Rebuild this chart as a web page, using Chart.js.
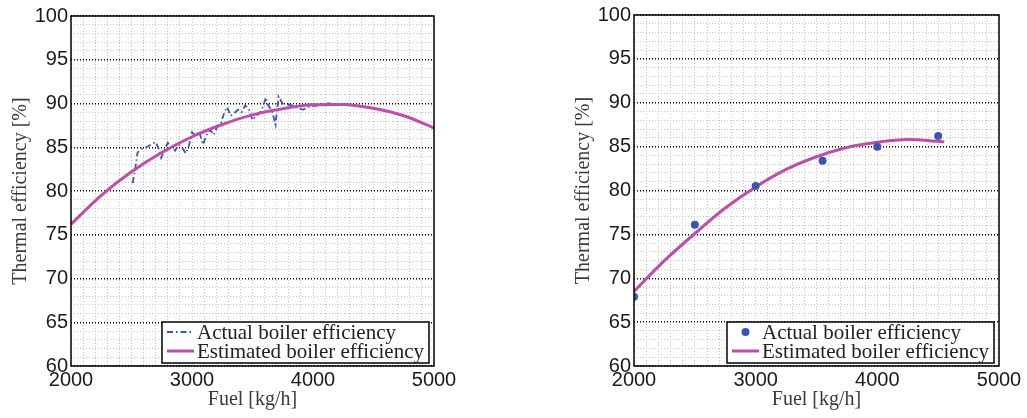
<!DOCTYPE html>
<html>
<head>
<meta charset="utf-8">
<script src="https://cdn.jsdelivr.net/npm/chart.js@4.4.1/dist/chart.umd.min.js"></script>
<style>
  body { margin: 0; background: #fff; }
  canvas { position: absolute; top: 0; }
  #left { left: 0; }
  #right { left: 560px; }
</style>
</head>
<body>
<canvas id="left" width="460" height="418"></canvas>
<canvas id="right" width="467" height="418"></canvas>
<script>
// left plot: measured efficiency vs model
const actualFuel = [2510, 2530, 2550, 2580, 2620, 2660, 2700, 2720, 2745, 2770, 2800, 2830, 2860, 2890, 2920, 2950, 2975, 3000, 3030, 3060, 3090, 3120, 3150, 3180, 3210, 3240, 3265, 3290, 3320, 3350, 3380, 3410, 3440, 3470, 3500, 3530, 3560, 3590, 3610, 3630, 3660, 3690, 3715, 3740, 3770, 3800, 3840, 3880, 3920, 3960, 4000, 4040, 4080, 4120, 4150];
const actualEff = [80.9, 82.5, 84.4, 84.8, 85.0, 85.3, 85.6, 85.0, 83.8, 84.6, 85.5, 84.9, 84.6, 85.3, 84.9, 84.3, 85.2, 86.7, 86.3, 86.8, 85.3, 86.4, 87.0, 86.4, 87.4, 87.8, 88.9, 89.6, 88.6, 88.9, 89.3, 89.0, 89.8, 89.3, 88.1, 88.6, 88.9, 89.7, 90.7, 89.8, 89.2, 87.6, 90.8, 90.2, 89.5, 89.9, 89.7, 89.4, 89.3, 89.6, 89.7, 89.8, 89.9, 90.0, 90.0];
const estFuel = [2000, 2250, 2500, 2750, 3000, 3250, 3500, 3750, 4000, 4250, 4500, 4750, 5000];
const estEff = [76.2, 79.5, 82.2, 84.4, 86.2, 87.6, 88.7, 89.4, 89.85, 89.9, 89.45, 88.6, 87.2];

// right plot: test points vs fitted curve
const testFuel = [2000, 2500, 3000, 3550, 4000, 4500];
const testEff = [67.9, 76.1, 80.5, 83.4, 85.0, 86.2];
const fitFuel = [2000, 2250, 2500, 2750, 3000, 3250, 3500, 3750, 4000, 4250, 4550];
const fitEff = [68.5, 72.0, 75.1, 78.0, 80.4, 82.4, 83.85, 84.9, 85.5, 85.8, 85.55];

const xTicks = [2000, 3000, 4000, 5000];
const yTicks = [60, 65, 70, 75, 80, 85, 90, 95, 100];

const MAGENTA = '#bd4fa9';
const BLUE = '#3a56b0';

function points(xs, ys) {
    return xs.map((x, i) => ({ x: x, y: ys[i] }));
}

// frame around the plot area + boxed legend inside it
const frameLegend = {
    id: 'frameLegend',
    afterDraw(chart, args, opts) {
        const { ctx, chartArea } = chart;
        ctx.save();
        ctx.strokeStyle = '#000';
        ctx.lineWidth = 1.5;
        ctx.strokeRect(chartArea.left, chartArea.top, chartArea.right - chartArea.left, chartArea.bottom - chartArea.top);

        ctx.font = '21px "Liberation Serif"';
        const datasets = chart.data.datasets;
        const textW = Math.max(...datasets.map(d => ctx.measureText(d.label).width));
        const w = 5 + opts.sample + 3 + textW + 5;
        const h = 41;
        const x = chartArea.right - opts.right - w;
        const y = chartArea.bottom - 3 - h;
        ctx.fillStyle = '#fff';
        ctx.fillRect(x, y, w, h);
        ctx.strokeRect(x, y, w, h);

        datasets.forEach((ds, i) => {
            const cy = y + 10 + i * 19;
            const sx = x + 5;
            if (ds.showLine) {
                ctx.beginPath();
                ctx.setLineDash(ds.borderDash || []);
                ctx.strokeStyle = ds.borderColor;
                ctx.lineWidth = ds.borderWidth;
                ctx.moveTo(sx, cy);
                ctx.lineTo(sx + opts.sample, cy);
                ctx.stroke();
                ctx.setLineDash([]);
            } else {
                ctx.beginPath();
                ctx.fillStyle = ds.backgroundColor;
                ctx.arc(sx + opts.sample / 2, cy, ds.pointRadius, 0, Math.PI * 2);
                ctx.fill();
            }
            ctx.fillStyle = '#222';
            ctx.textBaseline = 'middle';
            ctx.fillText(ds.label, sx + opts.sample + 3, cy + 1);
        });
        ctx.restore();
    }
};

function makeChart(id, datasets, yWidth, yTitlePad, padRight, padTop) {
    return new Chart(document.getElementById(id), {
        type: 'scatter',
        data: { datasets: datasets },
        plugins: [frameLegend],
        options: {
            responsive: false,
            animation: false,
            layout: { padding: { left: 0, right: padRight, top: padTop, bottom: 0 } },
            plugins: {
                legend: { display: false },
                tooltip: { enabled: false },
                frameLegend: { sample: 27, right: 5 }
            },
            scales: {
                x: {
                    type: 'linear',
                    min: 2000,
                    max: 5000,
                    afterFit: s => { s.height = 52; },
                    ticks: {
                        stepSize: 100,
                        autoSkip: false,
                        maxRotation: 0,
                        padding: 2,
                        color: '#1a1a1a',
                        font: { family: '"Liberation Sans"', size: 20 },
                        callback: v => xTicks.includes(v) ? String(v) : ''
                    },
                    grid: { color: '#c4c4c4', lineWidth: 1, drawTicks: false },
                    border: { display: false, dash: [1, 2] },
                    title: {
                        display: true,
                        text: 'Fuel [kg/h]',
                        color: '#3a3a3a',
                        padding: 6,
                        font: { family: '"Liberation Serif"', size: 20, weight: 'normal' }
                    }
                },
                y: {
                    min: 60,
                    max: 100,
                    afterFit: s => { s.width = yWidth; },
                    ticks: {
                        stepSize: 1,
                        autoSkip: false,
                        padding: 3,
                        color: '#1a1a1a',
                        font: { family: '"Liberation Sans"', size: 20 },
                        callback: v => yTicks.includes(v) ? String(v) : ''
                    },
                    grid: {
                        color: c => yTicks.includes(c.tick && c.tick.value) ? '#000' : '#c4c4c4',
                        lineWidth: c => yTicks.includes(c.tick && c.tick.value) ? 1.4 : 1,
                        drawTicks: false
                    },
                    border: { display: false, dash: [1, 2] },
                    title: {
                        display: true,
                        text: 'Thermal efficiency [%]',
                        color: '#3a3a3a',
                        padding: yTitlePad,
                        font: { family: '"Liberation Serif"', size: 20, weight: 'normal' }
                    }
                }
            }
        }
    });
}

makeChart('left', [
    {
        label: 'Actual boiler efficiency',
        data: points(actualFuel, actualEff),
        showLine: true,
        borderColor: BLUE,
        backgroundColor: BLUE,
        borderWidth: 1.8,
        borderDash: [6, 3, 1.5, 3],
        pointRadius: 0,
        order: 1
    },
    {
        label: 'Estimated boiler efficiency',
        data: points(estFuel, estEff),
        showLine: true,
        borderColor: MAGENTA,
        backgroundColor: MAGENTA,
        borderWidth: 3,
        cubicInterpolationMode: 'monotone',
        pointRadius: 0,
        order: 0
    }
], 71, 9, 26, 16);

makeChart('right', [
    {
        label: 'Actual boiler efficiency',
        data: points(testFuel, testEff),
        showLine: false,
        borderColor: BLUE,
        backgroundColor: BLUE,
        pointRadius: 4,
        pointBorderWidth: 0,
        order: 0
    },
    {
        label: 'Estimated boiler efficiency',
        data: points(fitFuel, fitEff),
        showLine: true,
        borderColor: MAGENTA,
        backgroundColor: MAGENTA,
        borderWidth: 3,
        cubicInterpolationMode: 'monotone',
        pointRadius: 0,
        order: 1
    }
], 74, 12, 28, 15);
</script>
</body>
</html>
